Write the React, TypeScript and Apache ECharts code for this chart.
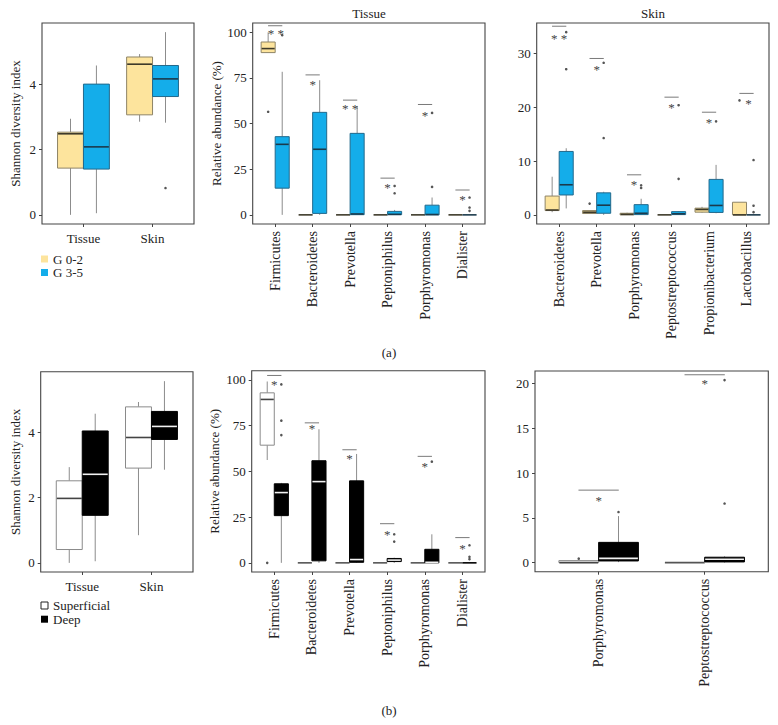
import React, { useEffect, useRef } from 'react';
import * as echarts from 'echarts';

const FONT = 'Liberation Serif';

// ---------- (a) left: Shannon diversity index by grade ----------
const shannonCats = ['Tissue', 'Skin'];
// [low whisker, Q1, median, Q3, high whisker]
const shannonG02 = [[0.0, 1.43, 2.48, 2.53, 2.94], [2.85, 3.06, 4.61, 4.83, 4.92]];
const shannonG35 = [[0.05, 1.40, 2.08, 4.00, 4.57], [2.82, 3.62, 4.16, 4.57, 5.59]];
const shannonG02Out: number[][] = [];
const shannonG35Out = [[1, 0.82]];

// ---------- (a) middle: Tissue relative abundance by grade ----------
const tissueTaxa = ['Firmicutes', 'Bacteroidetes', 'Prevotella', 'Peptoniphilus', 'Porphyromonas', 'Dialister'];
const tissueG02 = [[88.8, 88.8, 91, 94.6, 99.9], [0, 0, 0, 0, 0], [0, 0, 0, 0, 0], [0, 0, 0, 0, 0], [0, 0, 0, 0, 0], [0, 0, 0, 0, 0]];
const tissueG35 = [[0, 14.6, 38.6, 42.8, 78.3], [0, 0.8, 35.9, 56.1, 73.7], [0, 0.1, 0.5, 44.6, 59.5], [0, 0.1, 0.3, 1.9, 2.7], [0, 0, 0.2, 5.3, 9.5], [0, 0, 0, 0, 0]];
const tissueG02Out = [[0, 56.4]];
const tissueG35Out = [[0, 98.3], [3, 11.8], [3, 15.8], [4, 15.3], [4, 55.8], [5, 2.2], [5, 4.0], [5, 9.5]];
const tissueGradeSigLine = [103.5, 76.6, 62.8, 20.1, 60.4, 13.6];
const tissueGradeSigStar = [100.5, 72.6, 59.2, 15.8, 55.6, 9.3];
const tissueGradeStars = ['* *', '*', '* *', '*', '*', '*'];

// ---------- (a) right: Skin relative abundance by grade ----------
const skinTaxa = ['Bacteroidetes', 'Prevotella', 'Porphyromonas', 'Peptostreptococcus', 'Propionibacterium', 'Lactobacillus'];
const skinG02 = [[0.5, 0.8, 0.9, 3.5, 7.1], [0.25, 0.25, 0.5, 0.8, 0.8], [0, 0, 0.1, 0.3, 0.4], [0, 0, 0, 0, 0], [0.4, 0.5, 1.0, 1.25, 1.5], [0, 0, 0, 2.35, 2.35]];
const skinG35 = [[1.2, 3.7, 5.6, 11.8, 12.4], [0, 0.3, 1.8, 4.1, 4.3], [0, 0.05, 0.3, 1.9, 3.0], [0, 0.05, 0.2, 0.6, 0.7], [0.3, 0.45, 1.75, 6.6, 9.3], [0, 0, 0, 0, 0]];
const skinG02Out = [[1, 2.1], [5, 21.3]];
const skinG35Out = [[0, 27.1], [0, 34.0], [1, 14.3], [1, 28.3], [2, 5.0], [2, 5.5], [3, 6.7], [3, 20.4], [4, 17.4], [5, 0.5], [5, 1.7], [5, 10.2]];
const skinGradeSigLine = [35.1, 29.1, 7.45, 21.9, 19.1, 22.6];
const skinGradeSigStar = [33.2, 27.4, 6.1, 20.3, 17.6, 21.1];
const skinGradeStars = ['* *', '*', '*', '*', '*', '*'];

// ---------- (b) left: Shannon diversity index by depth ----------
const shannonSup = [[0.0, 0.41, 1.98, 2.52, 2.94], [0.85, 2.91, 3.85, 4.79, 4.94]];
const shannonDeep = [[0.05, 1.46, 2.72, 4.05, 4.58], [2.86, 3.79, 4.19, 4.65, 5.58]];
const shannonSupOut: number[][] = [];
const shannonDeepOut: number[][] = [];

// ---------- (b) middle: Tissue relative abundance by depth ----------
const tissueSup = [[56.2, 64.3, 89.3, 92.9, 99.1], [0, 0, 0, 0, 0], [0, 0, 0, 0, 0], [0, 0, 0, 0, 0], [0, 0, 0, 0, 0], [0, 0, 0, 0, 0]];
const tissueDeep = [[0, 25.8, 38.4, 43.2, 43.7], [0, 1.1, 44.4, 55.8, 73.0], [0, 0.3, 1.8, 44.8, 59.5], [0, 0.7, 1.5, 2.4, 2.8], [0, 0, 0.3, 7.4, 15.6], [0, 0, 0, 0, 0]];
const tissueSupOut = [[0, 0.0]];
const tissueDeepOut = [[0, 69.8], [0, 77.7], [0, 97.5], [3, 11.6], [3, 15.6], [4, 55.3], [5, 2.0], [5, 3.3], [5, 9.6]];
const tissueDepthSigLine = [102.4, 76.5, 61.8, 21.4, 58.2, 13.8];
const tissueDepthSigStar = [98.4, 74.3, 57.9, 16.8, 53.7, 9.2];
const tissueDepthStars = ['*', '*', '*', '*', '*', '*'];

// ---------- (b) right: Skin relative abundance by depth ----------
const skinDepthTaxa = ['Porphyromonas', 'Peptostreptococcus'];
const skinSup = [[0, 0, 0, 0.22, 0.22], [0, 0, 0, 0, 0]];
const skinDeep = [[0.05, 0.18, 0.47, 2.26, 5.2], [0, 0.07, 0.37, 0.6, 0.7]];
const skinSupOut = [[0, 0.44]];
const skinDeepOut = [[0, 5.65], [1, 6.6], [1, 20.4]];
const skinDepthSigLine = [8.1, 21.0];
const skinDepthSigStar = [7.2, 20.2];
const skinDepthStars = ['*', '*'];

const shannonTicks = [0, 2, 4];
const abundanceTicks = [0, 25, 50, 75, 100];
const skinGradeTicks = [0, 10, 20, 30];
const skinDepthTicks = [0, 5, 10, 15, 20];

// ---------- styles ----------
const ST = {
  g02: { fill: '#FDE49D', border: '#8E8466', median: '#3E3A2A', flat: '#3E3A2A', whisker: '#8C8C8C' },
  g35: { fill: '#14ADEA', border: '#23698C', median: '#1B3A4C', flat: '#1B3A4C', whisker: '#8C8C8C' },
  sup: { fill: '#FFFFFF', border: '#8A8A8A', median: '#444444', flat: '#555555', whisker: '#8C8C8C' },
  deep: { fill: '#000000', border: '#000000', median: '#F2F2F2', flat: '#000000', whisker: '#8C8C8C' },
};

const HW = 0.1875;

function boxRender(offset: number, st: any) {
  return (params: any, api: any) => {
    const x = api.value(0);
    const lo = api.value(1), q1 = api.value(2), med = api.value(3), q3 = api.value(4), hi = api.value(5);
    const cx = x + offset;
    const pc = (v: number) => api.coord([cx, v]);
    const children: any[] = [];
    if (hi > q3) {
      const a = pc(q3), b = pc(hi);
      children.push({ type: 'line', shape: { x1: a[0], y1: a[1], x2: b[0], y2: b[1] }, style: { stroke: st.whisker, lineWidth: 1 } });
    }
    if (lo < q1) {
      const a = pc(q1), b = pc(lo);
      children.push({ type: 'line', shape: { x1: a[0], y1: a[1], x2: b[0], y2: b[1] }, style: { stroke: st.whisker, lineWidth: 1 } });
    }
    const m1 = api.coord([cx - HW, med]);
    const m2 = api.coord([cx + HW, med]);
    if (q3 - q1 > 1e-9) {
      const tl = api.coord([cx - HW, q3]);
      const br = api.coord([cx + HW, q1]);
      children.push({
        type: 'rect',
        shape: { x: tl[0], y: tl[1], width: br[0] - tl[0], height: br[1] - tl[1] },
        style: { fill: st.fill, stroke: st.border, lineWidth: 1 },
      });
      children.push({ type: 'line', shape: { x1: m1[0] + 0.5, y1: m1[1], x2: m2[0] - 0.5, y2: m2[1] }, style: { stroke: st.median, lineWidth: 1.6 } });
    } else {
      children.push({ type: 'line', shape: { x1: m1[0], y1: m1[1], x2: m2[0], y2: m2[1] }, style: { stroke: st.flat, lineWidth: 1.6 } });
    }
    return { type: 'group', children };
  };
}

function sigRender(stars: string[], starDx: number[]) {
  return (params: any, api: any) => {
    const j = params.dataIndex;
    const x = api.value(0);
    const ly = api.value(1);
    const sy = api.value(2);
    const a = api.coord([x - 0.19, ly]);
    const b = api.coord([x + 0.19, ly]);
    const s = api.coord([x + (starDx[j] || 0), sy]);
    return {
      type: 'group',
      children: [
        { type: 'line', shape: { x1: a[0], y1: a[1], x2: b[0], y2: b[1] }, style: { stroke: '#7A7A7A', lineWidth: 1 } },
        {
          type: 'text', x: s[0], y: s[1] + 2,
          style: { text: stars[j], fontSize: 13, fontFamily: FONT, fill: '#444444', align: 'center', verticalAlign: 'middle' },
        },
      ],
    };
  };
}

const panels = [
  {
    grid: { left: 42, top: 23, width: 152, height: 201 }, cats: shannonCats, rotate: 0,
    yMin: -0.28, yMax: 5.87, yTicks: shannonTicks, yName: 'Shannon diversity index', nameGap: 20,
    groups: [
      { name: 'G 0-2', boxes: shannonG02, outliers: shannonG02Out, st: ST.g02, off: -HW },
      { name: 'G 3-5', boxes: shannonG35, outliers: shannonG35Out, st: ST.g35, off: HW },
    ],
    sig: null as any,
  },
  {
    grid: { left: 252.7, top: 23, width: 232.3, height: 201 }, cats: tissueTaxa, rotate: 90,
    yMin: -5, yMax: 105, yTicks: abundanceTicks, yName: 'Relative abundance (%)', nameGap: 30,
    groups: [
      { name: 'G 0-2', boxes: tissueG02, outliers: tissueG02Out, st: ST.g02, off: -HW },
      { name: 'G 3-5', boxes: tissueG35, outliers: tissueG35Out, st: ST.g35, off: HW },
    ],
    sig: { line: tissueGradeSigLine, star: tissueGradeSigStar, text: tissueGradeStars, dx: [0.02, 0, 0, 0, 0, 0] },
  },
  {
    grid: { left: 536.7, top: 23, width: 232.3, height: 201 }, cats: skinTaxa, rotate: 90,
    yMin: -1.7, yMax: 35.7, yTicks: skinGradeTicks, yName: '', nameGap: 30,
    groups: [
      { name: 'G 0-2', boxes: skinG02, outliers: skinG02Out, st: ST.g02, off: -HW },
      { name: 'G 3-5', boxes: skinG35, outliers: skinG35Out, st: ST.g35, off: HW },
    ],
    sig: { line: skinGradeSigLine, star: skinGradeSigStar, text: skinGradeStars, dx: [0, 0, 0, 0, 0, 0.05] },
  },
  {
    grid: { left: 40.7, top: 371.7, width: 152.3, height: 200.3 }, cats: shannonCats, rotate: 0,
    yMin: -0.28, yMax: 5.87, yTicks: shannonTicks, yName: 'Shannon diversity index', nameGap: 19,
    groups: [
      { name: 'Superficial', boxes: shannonSup, outliers: shannonSupOut, st: ST.sup, off: -HW },
      { name: 'Deep', boxes: shannonDeep, outliers: shannonDeepOut, st: ST.deep, off: HW },
    ],
    sig: null as any,
  },
  {
    grid: { left: 251.7, top: 370.7, width: 233.3, height: 201.3 }, cats: tissueTaxa, rotate: 90,
    yMin: -5, yMax: 105, yTicks: abundanceTicks, yName: 'Relative abundance (%)', nameGap: 31,
    groups: [
      { name: 'Superficial', boxes: tissueSup, outliers: tissueSupOut, st: ST.sup, off: -HW },
      { name: 'Deep', boxes: tissueDeep, outliers: tissueDeepOut, st: ST.deep, off: HW },
    ],
    sig: { line: tissueDepthSigLine, star: tissueDepthSigStar, text: tissueDepthStars, dx: [0, 0, 0, 0, 0, 0] },
  },
  {
    grid: { left: 535, top: 371, width: 233.3, height: 200.7 }, cats: skinDepthTaxa, rotate: 90,
    yMin: -1.02, yMax: 21.42, yTicks: skinDepthTicks, yName: '', nameGap: 30,
    groups: [
      { name: 'Superficial', boxes: skinSup, outliers: skinSupOut, st: ST.sup, off: -HW },
      { name: 'Deep', boxes: skinDeep, outliers: skinDeepOut, st: ST.deep, off: HW },
    ],
    sig: { line: skinDepthSigLine, star: skinDepthSigStar, text: skinDepthStars, dx: [0, 0] },
  },
];

function buildOption() {
  const grid = panels.map((p) => ({ ...p.grid, show: true, borderColor: '#444', borderWidth: 1.1, backgroundColor: 'transparent' }));
  const xAxis = panels.map((p, i) => {
    const idx = p.cats.map((_, j) => j);
    return {
      gridIndex: i, type: 'value', min: -0.6, max: p.cats.length - 0.4, position: 'bottom',
      axisLine: { show: false, onZero: false }, splitLine: { show: false },
      axisTick: { show: true, customValues: idx, length: 3, lineStyle: { color: '#444' } },
      axisLabel: {
        show: true, customValues: idx, formatter: (v: number) => p.cats[Math.round(v)] ?? '',
        rotate: p.rotate, fontSize: p.rotate ? 14 : 13, fontFamily: FONT, color: '#222', margin: p.rotate ? 7 : 8,
      },
    };
  });
  const yAxis = panels.map((p, i) => ({
    gridIndex: i, type: 'value', min: p.yMin, max: p.yMax, position: 'left',
    axisLine: { show: false, onZero: false }, splitLine: { show: false },
    axisTick: { show: true, customValues: p.yTicks, length: 3, lineStyle: { color: '#444' } },
    axisLabel: { show: true, customValues: p.yTicks, fontSize: 13, fontFamily: FONT, color: '#222', margin: 6 },
    name: p.yName, nameLocation: 'middle', nameGap: p.nameGap,
    nameTextStyle: { fontSize: 13, fontFamily: FONT, color: '#222' },
  }));
  const series: any[] = [];
  panels.forEach((p, i) => {
    p.groups.forEach((g) => {
      series.push({
        type: 'custom', name: g.name, xAxisIndex: i, yAxisIndex: i,
        itemStyle: { color: g.st.fill },
        data: g.boxes.map((b, j) => [j, ...b]),
        encode: { x: 0, y: [1, 2, 3, 4, 5] },
        renderItem: boxRender(g.off, g.st),
        silent: true, z: 2,
      });
      series.push({
        type: 'scatter', name: g.name, xAxisIndex: i, yAxisIndex: i,
        data: g.outliers.map((o) => [o[0] + g.off, o[1]]),
        symbol: 'circle', symbolSize: 2.6, itemStyle: { color: '#2A2A2A' },
        silent: true, z: 3,
      });
    });
    if (p.sig) {
      series.push({
        type: 'custom', name: 'sig' + i, xAxisIndex: i, yAxisIndex: i,
        itemStyle: { color: '#444444' },
        data: p.sig.line.map((v: number, j: number) => [j, v, p.sig.star[j]]),
        encode: { x: 0, y: [1, 2] },
        renderItem: sigRender(p.sig.text, p.sig.dx),
        silent: true, z: 4,
      });
    }
  });
  const txt = (text: string, x: number, y: number) => ({
    type: 'text', x, y,
    style: { text, fontSize: 13, fontFamily: FONT, fill: '#222', align: 'center', verticalAlign: 'middle' },
  });
  return {
    animation: false,
    backgroundColor: '#fff',
    grid, xAxis, yAxis, series,
    legend: [
      {
        data: [
          { name: 'G 0-2', icon: 'rect', itemStyle: { color: ST.g02.fill } },
          { name: 'G 3-5', icon: 'rect', itemStyle: { color: ST.g35.fill } },
        ],
        orient: 'vertical', left: 41, top: 252.5, padding: 0, itemWidth: 7, itemHeight: 7, itemGap: 0.5,
        selectedMode: false,
        textStyle: { fontSize: 13, fontFamily: FONT, color: '#222', lineHeight: 11 },
      },
      {
        data: [
          { name: 'Superficial', icon: 'rect', itemStyle: { color: '#fff', borderColor: '#222', borderWidth: 1 } },
          { name: 'Deep', icon: 'rect', itemStyle: { color: '#000' } },
        ],
        orient: 'vertical', left: 40.5, top: 599, padding: 0, itemWidth: 7, itemHeight: 7, itemGap: 0.7,
        selectedMode: false,
        textStyle: { fontSize: 13, fontFamily: FONT, color: '#222', lineHeight: 12 },
      },
    ],
    graphic: [
      txt('Tissue', 369, 13),
      txt('Skin', 653, 13),
      txt('(a)', 389, 352),
      txt('(b)', 389, 710),
    ],
  };
}

export default function App() {
  const ref = useRef<HTMLDivElement>(null);
  useEffect(() => {
    if (!ref.current) return;
    const chart = echarts.init(ref.current, null, { renderer: 'svg' });
    chart.setOption(buildOption() as any);
    return () => chart.dispose();
  }, []);
  return (
    <div
      ref={ref}
      style={{ position: 'fixed', left: 0, top: 0, width: 778, height: 725, background: '#fff' }}
    />
  );
}
